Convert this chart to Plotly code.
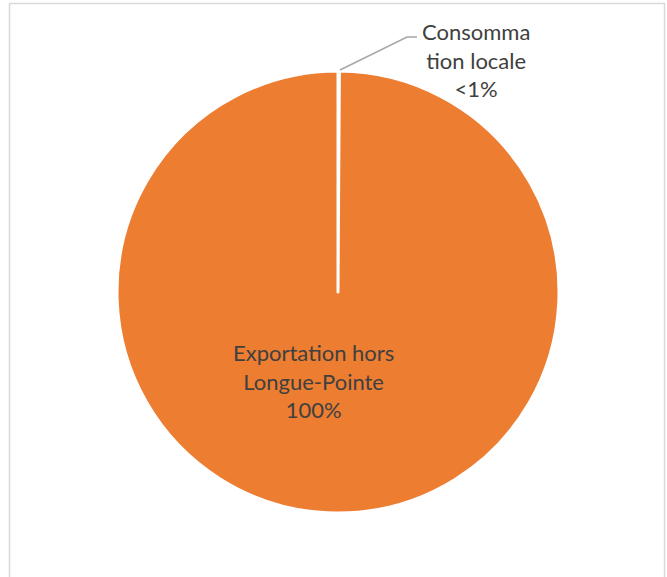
import plotly.graph_objects as go

labels = ["Consommation locale", "Exportation hors Longue-Pointe"]
values = [0.1, 99.9]
display_labels = ["Consomma<br>tion locale<br>&lt;1%", "Exportation hors<br>Longue-Pointe<br>100%"]
colors = ["#4472C4", "#ED7D31"]

W, H = 667, 577
cx, cy, r = 338, 292, 221

fig = go.Figure()
fig.add_trace(go.Pie(
    labels=labels, values=values, sort=False, direction="clockwise", rotation=0,
    marker=dict(colors=colors, line=dict(color="white", width=3)),
    textinfo="none", hoverinfo="label+percent", showlegend=False,
    domain=dict(x=[(cx - r) / W, (cx + r) / W], y=[1 - (cy + r) / H, 1 - (cy - r) / H]),
))

font = dict(family="Lato, Calibri, sans-serif", size=22, color="#404040")
fig.add_annotation(x=476 / W, y=1 - 60 / H, xref="paper", yref="paper", text=display_labels[0],
                   showarrow=False, font=font, align="center", xanchor="center", yanchor="middle")
fig.add_annotation(x=313 / W, y=1 - 381 / H, xref="paper", yref="paper", text=display_labels[1],
                   showarrow=False, font=font, align="center", xanchor="center", yanchor="middle")

# leader line for small slice
fig.add_shape(type="path", xref="paper", yref="paper",
              path=f"M {340/W},{1-70/H} L {407/W},{1-37/H} L {417/W},{1-37/H}",
              line=dict(color="#A6A6A6", width=1.5))
# chart area border
fig.add_shape(type="rect", xref="paper", yref="paper",
              x0=9.5 / W, x1=664.5 / W, y0=-0.05, y1=1 - 3.5 / H,
              line=dict(color="#D9D9D9", width=1.5))

fig.update_layout(width=W, height=H, margin=dict(l=0, r=0, t=0, b=0),
                  paper_bgcolor="white", plot_bgcolor="white")
fig.write_html("out.html")
